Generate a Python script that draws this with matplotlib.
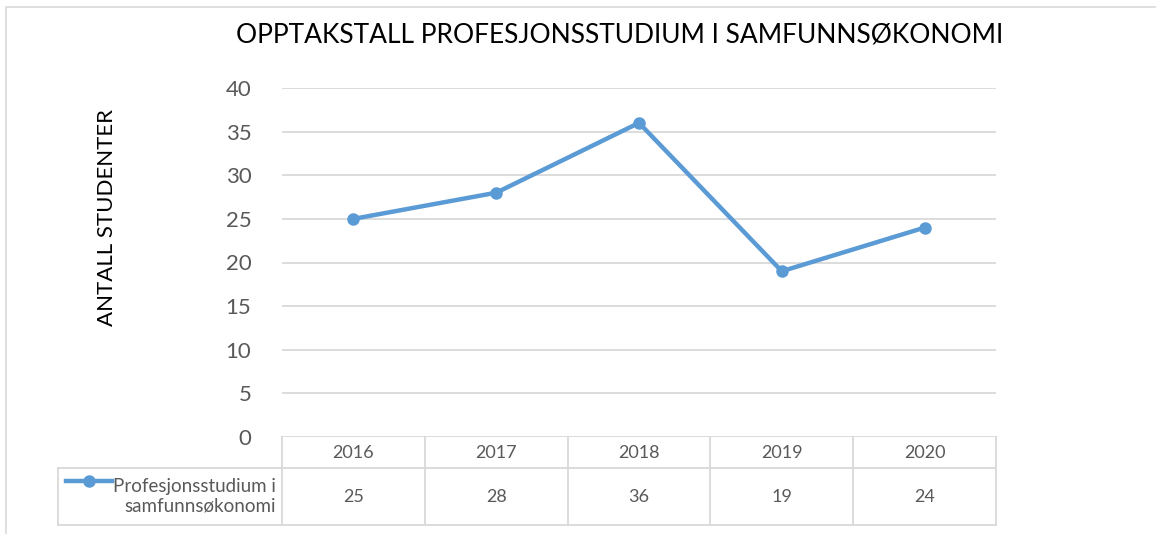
import numpy as np
import matplotlib
matplotlib.use('Agg')
import matplotlib.pyplot as plt
import matplotlib.transforms as mtransforms
from matplotlib.patches import Rectangle
from matplotlib.lines import Line2D

#%% data
years = ['2016', '2017', '2018', '2019', '2020']
studenter = [25, 28, 36, 19, 24]
serie_navn = 'Profesjonsstudium i\nsamfunnsøkonomi'
tittel = 'OPPTAKSTALL PROFESJONSSTUDIUM I SAMFUNNSØKONOMI'
y_tekst = 'ANTALL STUDENTER'

plt.rcParams['font.family'] = ['Lato', 'DejaVu Sans']
blue = '#5B9BD5'
grey_txt = '#595959'
grid_col = '#D9D9D9'

W, H = 1156, 534
fig = plt.figure(figsize=(W / 100, H / 100), dpi=100)

# outer chart border
fig.patches.append(Rectangle((6 / W, -0.1), 1.2, (H - 7) / H + 0.1,
                             transform=fig.transFigure, fill=False,
                             edgecolor=grid_col, linewidth=1.2))

# plot area
left, right, top, bottom = 282, 996, 88, 437
ax = fig.add_axes([left / W, (H - bottom) / H, (right - left) / W, (bottom - top) / H])

x = np.arange(len(years))
ax.plot(x, studenter, '-o', color=blue, linewidth=3.2, markersize=8, zorder=3)

ax.set_xlim(-0.5, len(years) - 0.5)
ax.set_ylim(0, 40)
ax.set_yticks(range(0, 41, 5))
ax.yaxis.grid(True, color=grid_col, linewidth=1.3)
ax.set_axisbelow(True)
ax.set_xticks([])
for s in ax.spines.values():
    s.set_visible(False)
ax.tick_params(axis='y', length=0, pad=22, labelsize=16, labelcolor=grey_txt)

fig.text(620 / W, 1 - 35 / H, tittel, fontsize=19, color='black',
         ha='center', va='center')
fig.text(107 / W, 1 - 218 / H, y_tekst, rotation=90, fontsize=16,
         ha='center', va='center', color='black')

# data table below the axis
trans = mtransforms.blended_transform_factory(ax.transData, ax.transAxes)
ph = bottom - top
row1 = -(468 - bottom) / ph
row2 = -(525 - bottom) / ph
n = len(years)
colw = (right - left) / n
leg_left = (58 - left) / colw - 0.5

def tline(xs, ys):
    ax.add_line(Line2D(xs, ys, transform=trans, color=grid_col, linewidth=1.3,
                       clip_on=False))

tline([leg_left, n - 0.5], [row1, row1])
tline([leg_left, n - 0.5], [row2, row2])
tline([leg_left, leg_left], [row1, row2])
for b in np.arange(-0.5, n, 1.0):
    tline([b, b], [0, row2])

for i, (yr, v) in enumerate(zip(years, studenter)):
    ax.text(i, row1 / 2, yr, transform=trans, ha='center', va='center',
            fontsize=13, color=grey_txt)
    ax.text(i, (row1 + row2) / 2, str(v), transform=trans, ha='center', va='center',
            fontsize=13, color=grey_txt)

# legend key in table
ax.text(-0.54, (row1 + row2) / 2, serie_navn, transform=trans, ha='right', va='center',
        fontsize=13.5, color=grey_txt, linespacing=1.2)
ky = (row1 + row2) / 2 + 0.045
kx0 = (66 - left) / colw - 0.5
kx1 = (112 - left) / colw - 0.5
ax.add_line(Line2D([kx0, kx1], [ky, ky], transform=trans, color=blue, linewidth=3.2,
                   clip_on=False))
ax.add_line(Line2D([(kx0 + kx1) / 2], [ky], transform=trans, color=blue, marker='o',
                   markersize=8, clip_on=False))

fig.savefig('out.png', dpi=100)
